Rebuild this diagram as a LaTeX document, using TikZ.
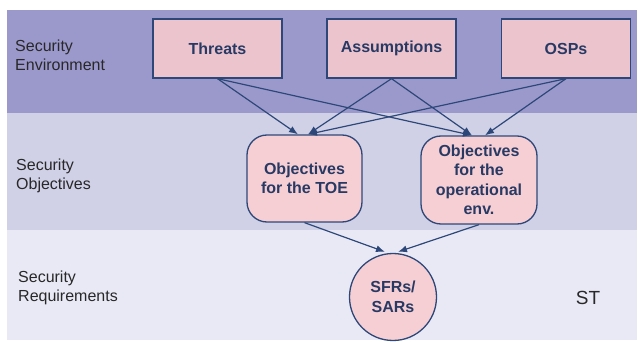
\documentclass[tikz,border=0pt]{standalone}
\usepackage{fontspec}
\setmainfont{Liberation Sans}
\usetikzlibrary{arrows.meta}
\definecolor{bandA}{RGB}{155,153,204}
\definecolor{bandB}{RGB}{208,208,231}
\definecolor{bandC}{RGB}{233,233,246}
\definecolor{boxfill}{RGB}{236,196,206}
\definecolor{objfill}{RGB}{246,207,212}
\definecolor{navy}{RGB}{45,72,120}
\definecolor{txt}{RGB}{40,58,100}
\definecolor{lbl}{RGB}{40,40,40}
\tikzset{
  srcbox/.style={draw=navy, line width=1.3pt, fill=boxfill, minimum width=129pt, minimum height=59pt, inner sep=0pt, text=txt, font=\fontsize{16}{19}\selectfont\bfseries},
  objbox/.style={draw=navy, line width=1.3pt, fill=objfill, rounded corners=20pt, minimum width=115pt, minimum height=87pt, inner sep=0pt, text=txt, align=center, font=\fontsize{16}{19.5}\selectfont\bfseries},
  reqcirc/.style={draw=navy, line width=1.3pt, fill=objfill, circle, minimum size=87pt, inner sep=0pt, text=txt, align=center, font=\fontsize{16}{20}\selectfont\bfseries},
  bandlabel/.style={anchor=west, align=left, text=lbl, inner sep=0pt, font=\fontsize{16}{19}\selectfont},
  conn/.style={draw=navy, line width=1.2pt, -{Latex[length=9pt,width=7pt]}}
}
\begin{document}
\begin{tikzpicture}[x=1pt,y=-1pt]
\useasboundingbox (0,0) rectangle (638,342);
\fill[white] (0,0) rectangle (638,342);
\fill[bandA] (7,10) rectangle (637,113);
\fill[bandB] (7,113) rectangle (637,230);
\fill[bandC] (7,230) rectangle (637,340);

\node[bandlabel] (l1) at (15,55) {Security\\Environment};
\node[bandlabel] (l2) at (16,176) {Security\\Objectives};
\node[bandlabel] (l3) at (18,288) {Security\\Requirements};
\node[text=lbl, font=\fontsize{19}{22}\selectfont, inner sep=0pt] (st) at (588,298) {ST};

\node[srcbox] (thr) at (217.5,48.5) {Threats};
\node[srcbox] (ass) at (391.5,48.5) {Assumptions};
\node[srcbox] (osp) at (566,48.5) {OSPs};

\node[objbox] (toe) at (304.5,178.5) {Objectives\\for the TOE};
\node[objbox, minimum width=116pt, minimum height=88pt] (ope) at (479,180) {Objectives\\for the\\operational\\env.};

\node[reqcirc] (sfr) at (393,297) {SFRs/\\SARs};

\draw[conn] (thr.south) -- ([xshift=-6.5pt]toe.north);
\draw[conn] (ass.south) -- ([xshift=3.5pt]toe.north);
\draw[conn] (osp.south) -- ([xshift=3.5pt]toe.north);
\draw[conn] (thr.south) -- ([xshift=-7pt]ope.north);
\draw[conn] (ass.south) -- ([xshift=-7pt]ope.north);
\draw[conn] (osp.south) -- ([xshift=6pt]ope.north);
\draw[conn] (toe.south) -- ([xshift=-8pt,yshift=1pt]sfr.north);
\draw[conn] (ope.south) -- ([xshift=5pt,yshift=1pt]sfr.north);
\end{tikzpicture}
\end{document}
